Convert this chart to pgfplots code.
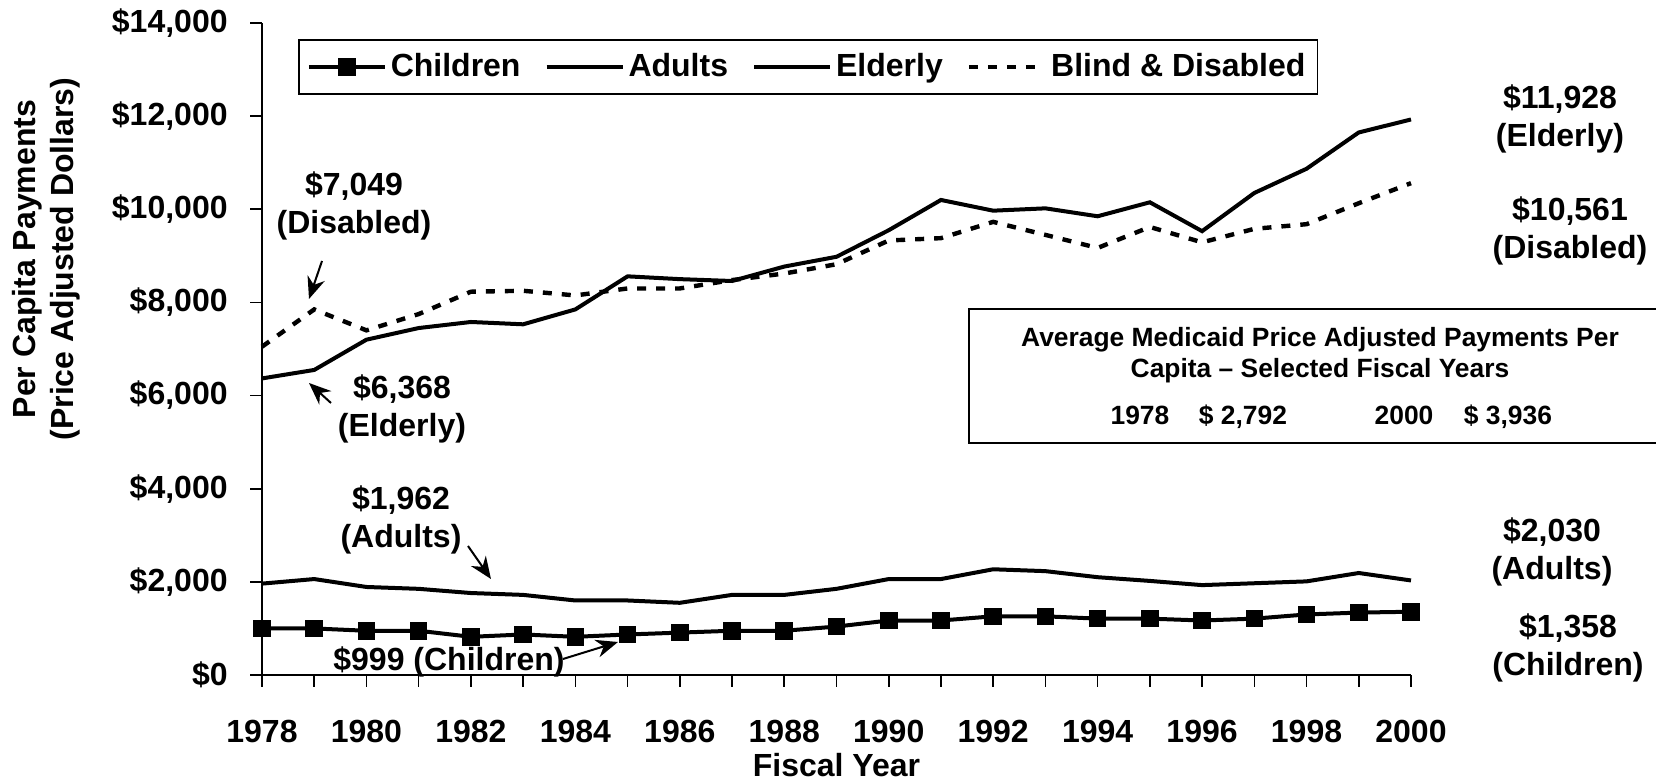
\documentclass[border=0pt]{standalone}
\usepackage{fontspec}
\setmainfont{Liberation Sans}
\usepackage{pgfplots}
\pgfplotsset{compat=1.18}
\usepackage{pgfplotstable}
\usetikzlibrary{arrows.meta}

\pgfplotstableread{
year children adults elderly disabled
1978 999  1962 6368  7049
1979 999  2060 6550  7850
1980 950  1890 7200  7400
1981 950  1850 7450  7750
1982 820  1760 7580  8230
1983 870  1720 7530  8250
1984 820  1600 7850  8150
1985 870  1600 8560  8300
1986 910  1550 8500  8300
1987 950  1720 8460  8480
1988 950  1720 8770  8620
1989 1040 1850 8980  8820
1990 1170 2060 9550  9330
1991 1170 2060 10200 9380
1992 1260 2270 9970  9730
1993 1260 2230 10020 9450
1994 1210 2100 9850  9170
1995 1210 2020 10150 9620
1996 1170 1930 9530  9290
1997 1210 1970 10350 9580
1998 1300 2010 10870 9680
1999 1340 2190 11650 10130
2000 1358 2030 11928 10561
}\datatable

\newcommand{\bigf}{\fontsize{16}{19}\selectfont\bfseries}
\newcommand{\boxf}{\fontsize{13.2}{15.5}\selectfont\bfseries}

\begin{document}
\begin{tikzpicture}[font=\bigf]
\path[use as bounding box] (-131pt,-53pt) rectangle (697pt,337.5pt);
\begin{axis}[
  scale only axis,
  width=574.5pt, height=326pt,
  at={(0,0)}, anchor=south west,
  xmin=1978, xmax=2000, ymin=0, ymax=14000,
  axis lines=left,
  axis line style={-, line width=1pt},
  tick align=outside,
  major tick length=6pt, minor tick length=6pt,
  tick style={black, line width=0.8pt},
  scaled y ticks=false, scaled x ticks=false,
  xtick={1978,1980,...,2000},
  minor xtick={1979,1981,...,1999},
  xticklabels={1978,1980,1982,1984,1986,1988,1990,1992,1994,1996,1998,2000},
  ytick={0,2000,...,14000},
  yticklabels={{\$0},{\$2,000},{\$4,000},{\$6,000},{\$8,000},{\$10,000},{\$12,000},{\$14,000}},
  tick label style={font=\bigf},
  yticklabel style={anchor=east, inner sep=0pt, xshift=-11pt},
  xticklabel style={anchor=center, inner sep=0pt, yshift=-22pt},
  xlabel={Fiscal Year},
  xlabel style={font=\bigf, at={(axis description cs:0.5,-0.138)}, anchor=center, inner sep=0pt},
  ylabel={Per Capita Payments\\(Price Adjusted Dollars)},
  ylabel style={font=\bigf, align=center, at={(axis description cs:-0.188,0.638)}, anchor=center, inner sep=0pt},
  clip=false,
  legend columns=4,
  legend style={font=\bigf, at={(axis description cs:0.0313,0.9755)}, anchor=north west,
    draw=black, line width=0.8pt, inner xsep=4pt, inner ysep=5pt,
    /tikz/every even column/.append style={column sep=10pt}},
  legend image code/.code={\draw[#1, mark repeat=2, mark phase=2] plot coordinates {(0pt,0pt) (19pt,0pt) (38pt,0pt)};},
]
\addplot[black, line width=2pt, mark=square*, mark size=3.4pt, mark options={solid}] table[x=year, y=children] {\datatable};
\addlegendentry{Children}
\addplot[black, line width=2pt] table[x=year, y=adults] {\datatable};
\addlegendentry{Adults}
\addplot[black, line width=2pt] table[x=year, y=elderly] {\datatable};
\addlegendentry{Elderly}
\addplot[black, line width=2.2pt, dash pattern=on 4.5pt off 5pt] table[x=year, y=disabled] {\datatable};
\addlegendentry{Blind \& Disabled}
\end{axis}

% annotations (left)
\node[align=center, inner sep=0pt] at (46pt,234.5pt) {\$7,049\\(Disabled)};
\draw[line width=1pt, -{Stealth[length=11pt,width=9pt]}] (30pt,207pt) -- (23.5pt,188pt);
\node[align=center, inner sep=0pt] at (70pt,133pt) {\$6,368\\(Elderly)};
\draw[line width=1pt, -{Stealth[length=11pt,width=9pt]}] (34.5pt,136pt) -- (23.5pt,146pt);
\node[align=center, inner sep=0pt] at (69.5pt,77.5pt) {\$1,962\\(Adults)};
\draw[line width=1pt, -{Stealth[length=11pt,width=9pt]}] (103pt,64.5pt) -- (114.5pt,48pt);
\node[inner sep=0pt] at (93.5pt,6.5pt) {\$999 (Children)};
\draw[line width=1pt, -{Stealth[length=11pt,width=9pt]}] (150.5pt,8pt) -- (178pt,16.5pt);
% annotations (right)
\node[align=center, inner sep=0pt] at (649pt,278pt) {\$11,928\\(Elderly)};
\node[align=center, inner sep=0pt] at (654pt,222pt) {\$10,561\\(Disabled)};
\node[align=center, inner sep=0pt] at (645pt,61.5pt) {\$2,030\\(Adults)};
\node[align=center, inner sep=0pt] at (653pt,13.5pt) {\$1,358\\(Children)};
% text box
\draw[line width=0.8pt, fill=white] (353.5pt,116pt) rectangle (720pt,183pt);
\node[font=\boxf, inner sep=0pt] at (529pt,167.5pt) {Average Medicaid Price Adjusted Payments Per};
\node[font=\boxf, inner sep=0pt] at (529pt,152pt) {Capita -- Selected Fiscal Years};
\node[font=\boxf, inner sep=0pt, anchor=base] at (439pt,125pt) {1978};
\node[font=\boxf, inner sep=0pt, anchor=base] at (490.5pt,125pt) {\$ 2,792};
\node[font=\boxf, inner sep=0pt, anchor=base] at (571pt,125pt) {2000};
\node[font=\boxf, inner sep=0pt, anchor=base] at (623pt,125pt) {\$ 3,936};
\end{tikzpicture}
\end{document}
